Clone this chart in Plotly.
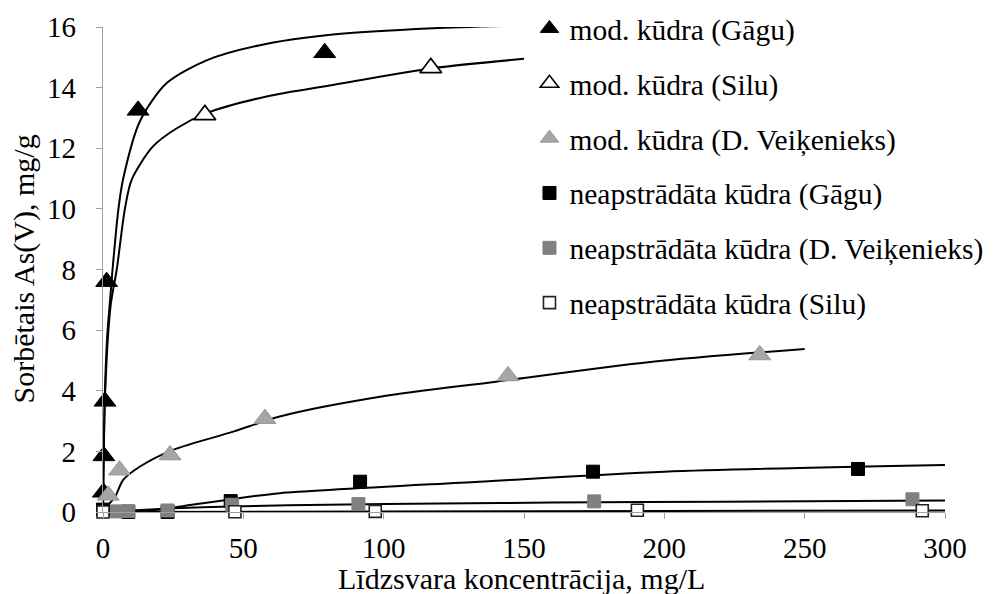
import plotly.graph_objects as go

# ---- measured points ----
mod_gagu_x = [0.15, 0.3, 0.7, 1.3, 12.5, 79]
mod_gagu_y = [0.65, 1.85, 3.65, 7.6, 13.25, 15.15]
mod_silu_x = [36.3, 116.8]
mod_silu_y = [13.1, 14.65]
mod_dv_x = [1.9, 5.9, 23.9, 57.7, 144.3, 234]
mod_dv_y = [0.55, 1.38, 1.88, 3.08, 4.49, 5.18]
neap_gagu_x = [0, 9, 23, 45.5, 91.6, 174.6, 269]
neap_gagu_y = [0.08, 0.0, 0.0, 0.36, 1.0, 1.33, 1.42]
neap_dv_x = [5, 9, 23, 46, 91, 175, 288.4]
neap_dv_y = [0.02, 0.03, 0.05, 0.24, 0.26, 0.35, 0.42]
neap_silu_x = [0, 47, 97, 190.4, 291.9]
neap_silu_y = [0.0, 0.01, 0.02, 0.06, 0.04]

# ---- fitted curves ----
c_gagu_x = [0, 0.7, 1.5, 2.7, 3.4, 5.5, 7.2, 13.2, 22.7, 36.9, 55.9, 81.9, 117.6, 150]
c_gagu_y = [0, 4.0, 5.8, 7.2, 8.0, 10.0, 11.0, 12.9, 14.15, 14.9, 15.4, 15.75, 15.96, 16.05]
c_silu_x = [0, 0.7, 2.7, 4.9, 7.8, 10.2, 17.8, 26.3, 36.9, 58.3, 81.9, 117.6, 150]
c_silu_y = [0, 3.8, 6.8, 8.0, 10.0, 10.96, 12.06, 12.66, 13.16, 13.71, 14.09, 14.64, 14.95]
c_dv_x = [0, 2.5, 4.3, 7.2, 13.2, 25, 46.4, 63, 98.7, 140, 195, 250]
c_dv_y = [0, 0.3, 0.5, 1.06, 1.5, 2.05, 2.65, 3.15, 3.8, 4.3, 4.95, 5.38]
c_ngagu_x = [0, 19, 31, 52, 63, 134, 200, 300]
c_ngagu_y = [0, 0.07, 0.23, 0.5, 0.62, 1.0, 1.33, 1.55]
c_ndv_x = [0, 10, 25, 50, 80, 120, 160, 220, 300]
c_ndv_y = [0, 0.05, 0.12, 0.19, 0.24, 0.28, 0.31, 0.34, 0.38]
c_nsilu_x = [0, 100, 200, 300]
c_nsilu_y = [0, 0.02, 0.035, 0.05]

names = ["mod. kūdra (Gāgu)", "mod. kūdra (Silu)", "mod. kūdra (D. Veiķenieks)",
         "neapstrādāta kūdra (Gāgu)", "neapstrādāta kūdra (D. Veiķenieks)",
         "neapstrādāta kūdra (Silu)"]
x_ticks = [0, 50, 100, 150, 200, 250, 300]
y_ticks = [0, 2, 4, 6, 8, 10, 12, 14, 16]

FONT = "Liberation Serif"
fig = go.Figure()

curves = [(c_gagu_x, c_gagu_y), (c_silu_x, c_silu_y), (c_dv_x, c_dv_y),
          (c_ngagu_x, c_ngagu_y), (c_ndv_x, c_ndv_y), (c_nsilu_x, c_nsilu_y)]
for cx, cy in curves:
    fig.add_trace(go.Scatter(x=cx, y=cy, mode="lines", showlegend=False,
                             line=dict(color="black", width=2, shape="spline", smoothing=0.8),
                             cliponaxis=False, hoverinfo="skip"))

pts = [(mod_gagu_x, mod_gagu_y), (mod_silu_x, mod_silu_y), (mod_dv_x, mod_dv_y),
       (neap_gagu_x, neap_gagu_y), (neap_dv_x, neap_dv_y), (neap_silu_x, neap_silu_y)]
styles = [
    dict(symbol="triangle-up", size=19, color="black", line=dict(color="black", width=1)),
    dict(symbol="triangle-up", size=19, color="white", line=dict(color="black", width=1.6)),
    dict(symbol="triangle-up", size=19, color="#a6a6a6", line=dict(color="#959595", width=1)),
    dict(symbol="square", size=13, color="black", line=dict(color="black", width=1)),
    dict(symbol="square", size=13, color="#808080", line=dict(color="#808080", width=1)),
    dict(symbol="square", size=12, color="white", line=dict(color="#222222", width=1.6)),
]
for i, ((px, py), st) in enumerate(zip(pts, styles)):
    fig.add_trace(go.Scatter(x=px, y=py, mode="markers", name=names[i], marker=st,
                             cliponaxis=False, legendgroup=f"g{i}"))

axis_common = dict(showgrid=False, zeroline=False, showline=True, linecolor="#a0a0a0",
                   linewidth=1.2, ticks="outside", tickcolor="#a0a0a0", ticklen=6,
                   automargin=False,
                   tickfont=dict(family=FONT, size=29, color="black"))
fig.update_xaxes(range=[0, 300], tickvals=x_ticks, ticklabelstandoff=4, **axis_common)
fig.update_yaxes(range=[0, 16], tickvals=y_ticks, ticklabelstandoff=14, **axis_common)

fig.update_layout(
    width=1000, height=594,
    margin=dict(l=95, r=63, t=19, b=90, autoexpand=False),
    plot_bgcolor="white", paper_bgcolor="white",
    font=dict(family=FONT, size=29, color="black"),
    legend=dict(x=0.5065, y=1.05, xanchor="left", yanchor="top",
                font=dict(family=FONT, size=29.5, color="black"),
                tracegroupgap=13.5, bgcolor="rgba(0,0,0,0)", maxheight=594),
    annotations=[
        dict(text="Līdzsvara koncentrācija, mg/L", xref="paper", yref="paper",
             x=0.497, y=-0.138, xanchor="center", yanchor="middle", showarrow=False,
             font=dict(family=FONT, size=30, color="black")),
        dict(text="Sorbētais As(V), mg/g", xref="paper", yref="paper",
             x=-0.095, y=0.5, xanchor="center", yanchor="middle", textangle=-90,
             showarrow=False, font=dict(family=FONT, size=30, color="black")),
    ],
)
fig.write_html("out.html")
